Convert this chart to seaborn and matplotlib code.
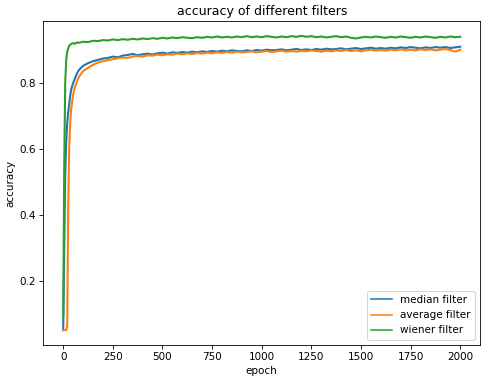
import pandas as pd
import matplotlib
matplotlib.use("Agg")
import matplotlib.pyplot as plt
import seaborn as sns

epoch = [0, 5, 10, 15, 20, 25, 30, 35, 40, 50, 60, 70, 80, 100, 125, 150, 175, 200] + list(range(225, 2001, 25))

median_acc = [
    0.05, 0.30, 0.52, 0.62, 0.68, 0.71, 0.735, 0.76, 0.78, 0.80, 0.815, 0.83, 0.84, 0.852, 0.86, 0.866, 0.87, 0.874,
    0.876, 0.880, 0.878, 0.883, 0.885, 0.888, 0.884, 0.887,
    0.889, 0.886, 0.890, 0.892, 0.889, 0.893, 0.891, 0.894,
    0.892, 0.895, 0.893, 0.896, 0.894, 0.897, 0.895, 0.898,
    0.896, 0.899, 0.897, 0.896, 0.899, 0.897, 0.900, 0.898,
    0.901, 0.899, 0.900, 0.902, 0.899, 0.901, 0.903, 0.900,
    0.902, 0.900, 0.903, 0.901, 0.904, 0.902, 0.903, 0.905,
    0.902, 0.904, 0.906, 0.903, 0.905, 0.907, 0.904, 0.906,
    0.904, 0.907, 0.905, 0.908, 0.906, 0.909, 0.907, 0.905,
    0.908, 0.906, 0.909, 0.907, 0.909, 0.906, 0.908, 0.910,
]

average_acc = [
    0.05, 0.05, 0.05, 0.05, 0.06, 0.42, 0.60, 0.68, 0.72, 0.765, 0.79, 0.805, 0.82, 0.836, 0.846, 0.855, 0.862, 0.866,
    0.869, 0.872, 0.875, 0.877, 0.876, 0.880, 0.882, 0.880,
    0.884, 0.883, 0.886, 0.884, 0.887, 0.886, 0.889, 0.887,
    0.890, 0.888, 0.891, 0.889, 0.892, 0.890, 0.893, 0.891,
    0.894, 0.892, 0.895, 0.893, 0.894, 0.896, 0.893, 0.895,
    0.897, 0.894, 0.896, 0.898, 0.895, 0.897, 0.895, 0.898,
    0.896, 0.899, 0.897, 0.895, 0.898, 0.896, 0.899, 0.897,
    0.900, 0.897, 0.899, 0.896, 0.899, 0.901, 0.898, 0.900,
    0.898, 0.901, 0.899, 0.902, 0.899, 0.901, 0.899, 0.902,
    0.900, 0.902, 0.899, 0.901, 0.903, 0.900, 0.895, 0.901,
]

wiener_acc = [
    0.09, 0.55, 0.80, 0.87, 0.895, 0.905, 0.912, 0.916, 0.918, 0.921, 0.919, 0.923, 0.922, 0.925, 0.924, 0.928, 0.927, 0.930,
    0.929, 0.932, 0.930, 0.933, 0.931, 0.934, 0.932, 0.935,
    0.933, 0.936, 0.934, 0.937, 0.935, 0.938, 0.936, 0.939,
    0.937, 0.936, 0.939, 0.937, 0.940, 0.938, 0.941, 0.938,
    0.940, 0.938, 0.941, 0.939, 0.942, 0.939, 0.941, 0.939,
    0.942, 0.940, 0.938, 0.941, 0.939, 0.942, 0.940, 0.943,
    0.940, 0.942, 0.939, 0.941, 0.938, 0.940, 0.942, 0.939,
    0.941, 0.937, 0.935, 0.938, 0.940, 0.938, 0.941, 0.939,
    0.937, 0.940, 0.938, 0.941, 0.939, 0.937, 0.940, 0.938,
    0.941, 0.939, 0.937, 0.940, 0.938, 0.941, 0.939, 0.940,
]

series = [
    ("median filter", median_acc, "#1f77b4"),
    ("average filter", average_acc, "#ff7f0e"),
    ("wiener filter", wiener_acc, "#2ca02c"),
]

fig, ax = plt.subplots(figsize=(482 / 75, 384 / 75), dpi=75)
fig.subplots_adjust(left=0.09, right=0.996, bottom=0.102, top=0.945)

for name, vals, color in series:
    df = pd.DataFrame({"epoch": epoch, "accuracy": vals})
    sns.lineplot(data=df, x="epoch", y="accuracy", ax=ax, color=color, label=name, linewidth=2.0)

ax.set_title("accuracy of different filters")
ax.set_xlabel("epoch")
ax.set_ylabel("accuracy")
leg = ax.legend(loc="lower right")
for line in leg.get_lines():
    line.set_linewidth(1.5)

fig.savefig("out.png", dpi=75)
